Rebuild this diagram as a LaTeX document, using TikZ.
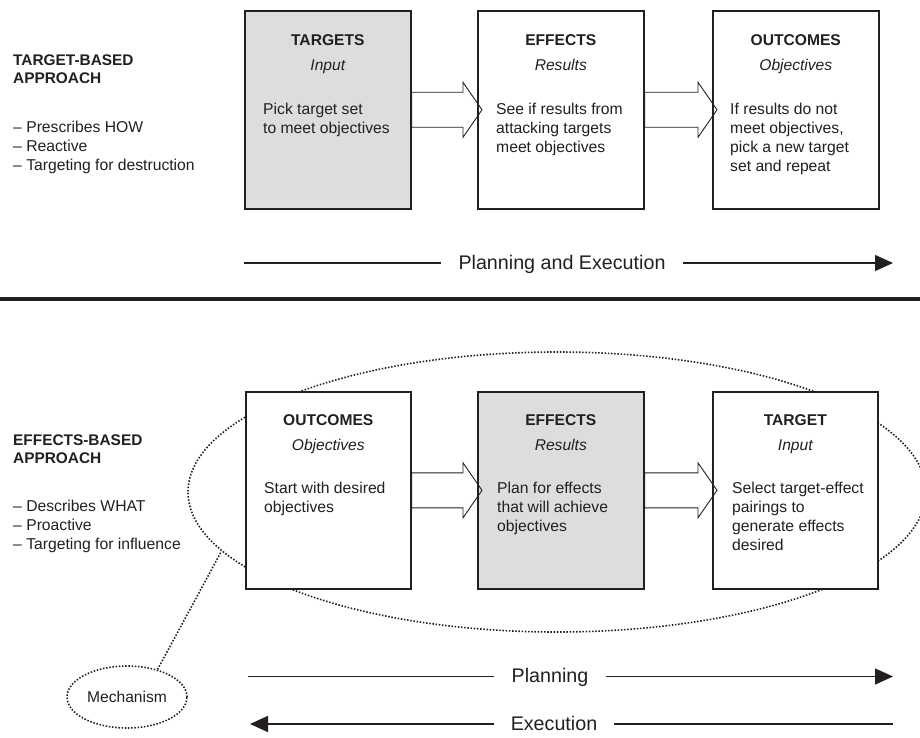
\documentclass[tikz,border=0pt]{standalone}
\usepackage{fontspec}
\setmainfont{Liberation Sans}
\usetikzlibrary{arrows.meta,shapes.geometric,calc}
\definecolor{ink}{RGB}{35,31,32}
\definecolor{shade}{RGB}{220,221,223}
% invisible strut that fixes the height of a first text line
\newcommand\firstrow{\rule{0pt}{13pt}}
\begin{document}
\begin{tikzpicture}[x=1pt,y=-1pt,
  every node/.style={text=ink},
  panel/.style={draw=ink, line width=1.6pt, fill=white, minimum width=166pt,
    minimum height=198pt, inner sep=0pt, anchor=north west},
  ptitle/.style={font=\fontsize{15.6}{18.8}\selectfont\bfseries, anchor=base, inner sep=0pt},
  psub/.style={font=\fontsize{15.6}{18.8}\selectfont\itshape, anchor=base, inner sep=0pt},
  pbody/.style={font=\fontsize{15.7}{18.8}\selectfont, align=left, anchor=north west, inner sep=0pt},
  sidehead/.style={font=\fontsize{15.4}{18.4}\selectfont\bfseries, align=left, anchor=north west, inner sep=0pt},
  sidelist/.style={font=\fontsize{15.7}{18.9}\selectfont, align=left, anchor=north west, inner sep=0pt},
  fatarrow/.style={draw=ink, line width=0.9pt, line join=miter},
  axislabel/.style={font=\fontsize{19.7}{24}\selectfont, inner xsep=17pt, inner ysep=0pt,
    text height=12pt, text depth=0pt},
  axis/.style={draw=ink, line width=1.3pt},
  tip/.style={-{Triangle[length=18pt,width=16pt]}},
  dots/.style={draw=ink, line width=1.6pt, dash pattern=on 1.5pt off 1.7pt}
]
\useasboundingbox (0,0) rectangle (920,738);

% ---------------- target-based approach ----------------
\node[sidehead] (tbhead) at (13,52) {\firstrow TARGET-BASED\\APPROACH};
\node[sidelist] (tblist) at (13,119.3) {\firstrow – Prescribes HOW\\– Reactive\\– Targeting for destruction};

\node[panel, fill=shade] (ta) at (244,10) {};
\node[panel] (tb) at (477,10) {};
\node[panel] (tc) at (712,10) {};

\node[ptitle] (taT) at ($(ta.north)+(0,35.5)$) {TARGETS};
\node[psub]   (taS) at ($(ta.north)+(0,60.5)$) {Input};
\node[pbody]  (taB) at ($(ta.north west)+(19,91.5)$) {\firstrow Pick target set\\to meet objectives};

\node[ptitle] (tbT) at ($(tb.north)+(0,35.5)$) {EFFECTS};
\node[psub]   (tbS) at ($(tb.north)+(0,60.5)$) {Results};
\node[pbody]  (tbB) at ($(tb.north west)+(19,91.5)$) {\firstrow See if results from\\attacking targets\\meet objectives};

\node[ptitle] (tcT) at ($(tc.north)+(0,35.5)$) {OUTCOMES};
\node[psub]   (tcS) at ($(tc.north)+(0,60.5)$) {Objectives};
\node[pbody]  (tcB) at ($(tc.north west)+(18,91.5)$) {\firstrow If results do not\\meet objectives,\\pick a new target\\set and repeat};

% hollow block arrows between the panels
\foreach \a/\b in {ta/tb, tb/tc}{
  \draw[fatarrow] ([yshift=17.5pt]\a.east) -- ([xshift=-14pt,yshift=17.5pt]\b.west)
    -- ([xshift=-14pt,yshift=27.5pt]\b.west) -- ([xshift=5pt]\b.west)
    -- ([xshift=-14pt,yshift=-27.5pt]\b.west) -- ([xshift=-14pt,yshift=-17.5pt]\b.west)
    -- ([yshift=-17.5pt]\a.east) -- cycle;
}

\node[axislabel] (pe) at (562,263) {Planning and Execution};
\coordinate (peL) at (244,263);
\coordinate (peR) at (893,263);
\draw[axis] (peL) -- (pe.west);
\draw[axis, tip] (pe.east) -- (peR);

% dividing rule
\coordinate (ruleL) at (0,298.5);
\coordinate (ruleR) at (920,298.5);
\draw[ink, line width=4pt] (ruleL) -- (ruleR);

% ---------------- effects-based approach ----------------
\node[dots, shape=ellipse, minimum width=738pt, minimum height=280pt, inner sep=0pt] (group) at (557,492) {};

\node[sidehead] (ebhead) at (13,432) {\firstrow EFFECTS-BASED\\APPROACH};
\node[sidelist] (eblist) at (13,498.7) {\firstrow – Describes WHAT\\– Proactive\\– Targeting for influence};

\node[panel, minimum width=165pt, minimum height=197pt] (ea) at (245,391) {};
\node[panel, minimum width=166pt, minimum height=197pt, fill=shade] (eb) at (477,391) {};
\node[panel, minimum width=165pt, minimum height=197pt] (ec) at (712,391) {};

\node[ptitle] (eaT) at ($(ea.north)+(0,34.5)$) {OUTCOMES};
\node[psub]   (eaS) at ($(ea.north)+(0,59.5)$) {Objectives};
\node[pbody]  (eaB) at ($(ea.north west)+(19,89.5)$) {\firstrow Start with desired\\objectives};

\node[ptitle] (ebT) at ($(eb.north)+(0,34.5)$) {EFFECTS};
\node[psub]   (ebS) at ($(eb.north)+(0,59.5)$) {Results};
\node[pbody]  (ebB) at ($(eb.north west)+(20,89.5)$) {\firstrow Plan for effects\\that will achieve\\objectives};

\node[ptitle] (ecT) at ($(ec.north)+(0,34.5)$) {TARGET};
\node[psub]   (ecS) at ($(ec.north)+(0,59.5)$) {Input};
\node[pbody]  (ecB) at ($(ec.north west)+(20,89.5)$) {\firstrow Select target-effect\\pairings to\\generate effects\\desired};

\foreach \a/\b in {ea/eb, eb/ec}{
  \draw[fatarrow] ([yshift=17.5pt]\a.east) -- ([xshift=-14pt,yshift=17.5pt]\b.west)
    -- ([xshift=-14pt,yshift=27.5pt]\b.west) -- ([xshift=5pt]\b.west)
    -- ([xshift=-14pt,yshift=-27.5pt]\b.west) -- ([xshift=-14pt,yshift=-17.5pt]\b.west)
    -- ([yshift=-17.5pt]\a.east) -- cycle;
}

% mechanism callout
\node[dots, shape=ellipse, minimum width=120pt, minimum height=62pt, inner sep=0pt,
  font=\fontsize{15.6}{18.8}\selectfont] (mech) at (127,697) {Mechanism};
\draw[dots] (mech.42) -- (group.190);

% planning / execution directions
\node[axislabel] (pl) at (550,676.5) {Planning};
\coordinate (plL) at (248,676.5);
\coordinate (plR) at (893,676.5);
\draw[axis] (plL) -- (pl.west);
\draw[axis, tip] (pl.east) -- (plR);

\node[axislabel] (ex) at (554,724) {Execution};
\coordinate (exL) at (250,724);
\coordinate (exR) at (893,724);
\draw[axis, tip] (ex.west) -- (exL);
\draw[axis] (ex.east) -- (exR);
\end{tikzpicture}
\end{document}
